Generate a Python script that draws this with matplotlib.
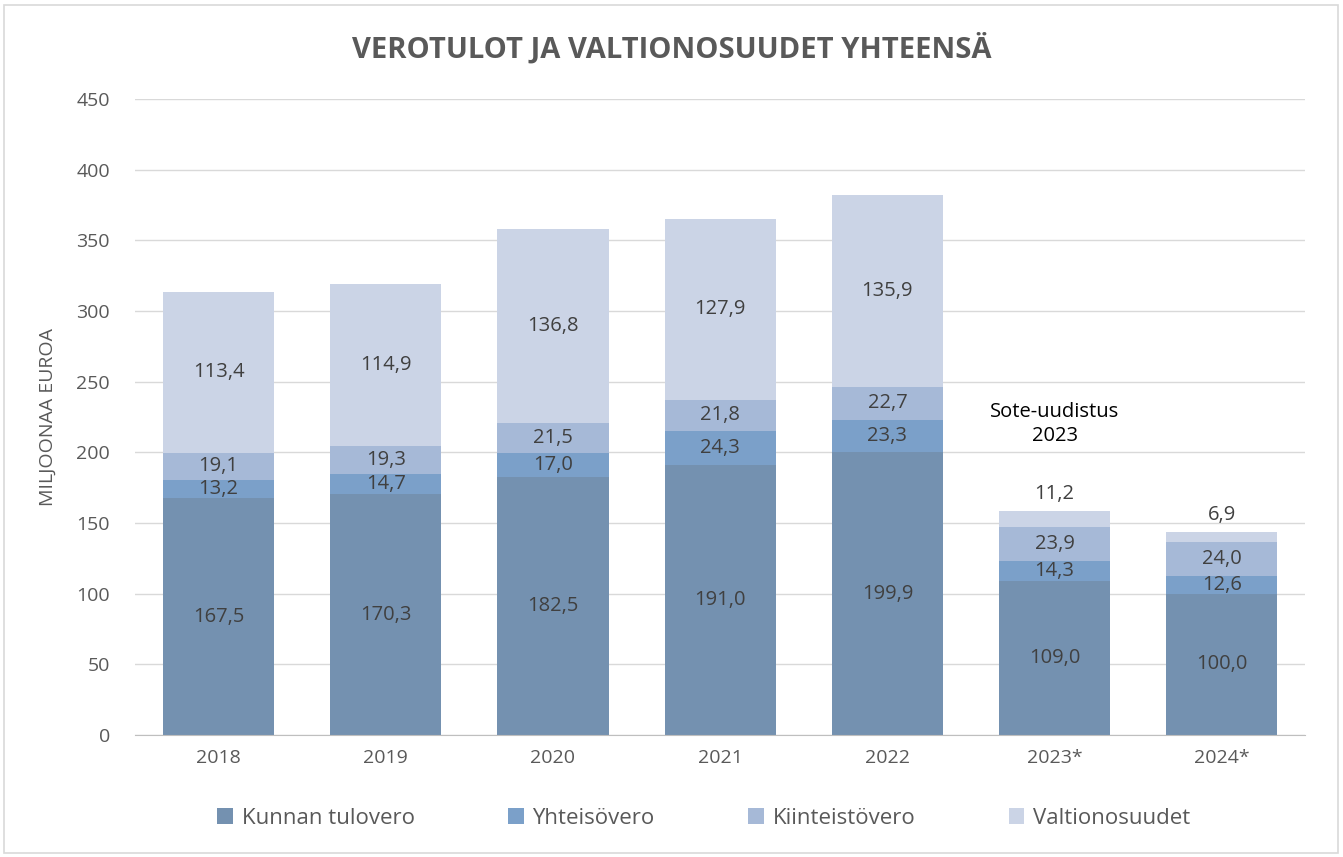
import numpy as np
import matplotlib.pyplot as plt
from matplotlib.patches import Rectangle

years = ['2018', '2019', '2020', '2021', '2022', '2023*', '2024*']
tulovero = [167.5, 170.3, 182.5, 191.0, 199.9, 109.0, 100.0]
yhteisovero = [13.2, 14.7, 17.0, 24.3, 23.3, 14.3, 12.6]
kiinteistovero = [19.1, 19.3, 21.5, 21.8, 22.7, 23.9, 24.0]
valtionosuudet = [113.4, 114.9, 136.8, 127.9, 135.9, 11.2, 6.9]

series = [
    ('Kunnan tulovero', tulovero, '#7491B0'),
    ('Yhteisövero', yhteisovero, '#7BA0C9'),
    ('Kiinteistövero', kiinteistovero, '#A6B9D7'),
    ('Valtionosuudet', valtionosuudet, '#CBD4E6'),
]

plt.rcParams['font.family'] = ['Open Sans', 'DejaVu Sans']

fig = plt.figure(figsize=(13.43, 8.57), dpi=100)
ax = fig.add_axes([0.1005, 0.1424, 0.8715, 0.7421])

# figure border
fig.patches.append(Rectangle((0.003, 0.005), 0.993, 0.989, transform=fig.transFigure,
                             fill=False, edgecolor='#D9D9D9', linewidth=1.2))

x = np.arange(len(years))
bottom = np.zeros(len(years))
width = 0.665
handles = []
for name, vals, col in series:
    vals = np.array(vals)
    b = ax.bar(x, vals, width, bottom=bottom, color=col, label=name, zorder=3)
    handles.append(b)
    for i, v in enumerate(vals):
        if name == 'Valtionosuudet' and v < 15:
            ax.text(x[i], bottom[i] + v + 5, f'{v:.1f}'.replace('.', ','),
                    ha='center', va='bottom', fontsize=14.5, color='#404040')
        else:
            ax.text(x[i], bottom[i] + v / 2, f'{v:.1f}'.replace('.', ','),
                    ha='center', va='center', fontsize=14.5, color='#404040')
    bottom += vals

ax.text(5, 220, 'Sote-uudistus\n2023', ha='center', va='center', fontsize=14.5,
        color='black', linespacing=1.3)

ax.set_ylim(0, 450)
ax.set_xlim(-0.5, len(years) - 0.5)
ax.set_yticks(np.arange(0, 451, 50))
ax.set_xticks(x)
ax.set_xticklabels(years)
ax.tick_params(axis='both', length=0, labelsize=14, labelcolor='#595959', pad=10)
ax.tick_params(axis='y', pad=18)
ax.grid(axis='y', color='#D9D9D9', linewidth=1, zorder=0)
for s in ['top', 'right', 'left']:
    ax.spines[s].set_visible(False)
ax.spines['bottom'].set_color('#BFBFBF')
ax.spines['bottom'].set_zorder(4)

ax.set_ylabel('MILJOONAA EUROA', fontsize=14, color='#595959', labelpad=14)

fig.text(0.5, 0.943, 'VEROTULOT JA VALTIONOSUUDET YHTEENSÄ', ha='center', va='center',
         fontsize=21, fontweight='bold', color='#595959')

fig.legend(handles, [s[0] for s in series], loc='center', bbox_to_anchor=(0.524, 0.045),
           ncol=4, frameon=False, fontsize=16, handlelength=0.7, handleheight=0.7,
           columnspacing=4.2, handletextpad=0.4, labelcolor='#595959')

fig.savefig('out.png', dpi=100)
